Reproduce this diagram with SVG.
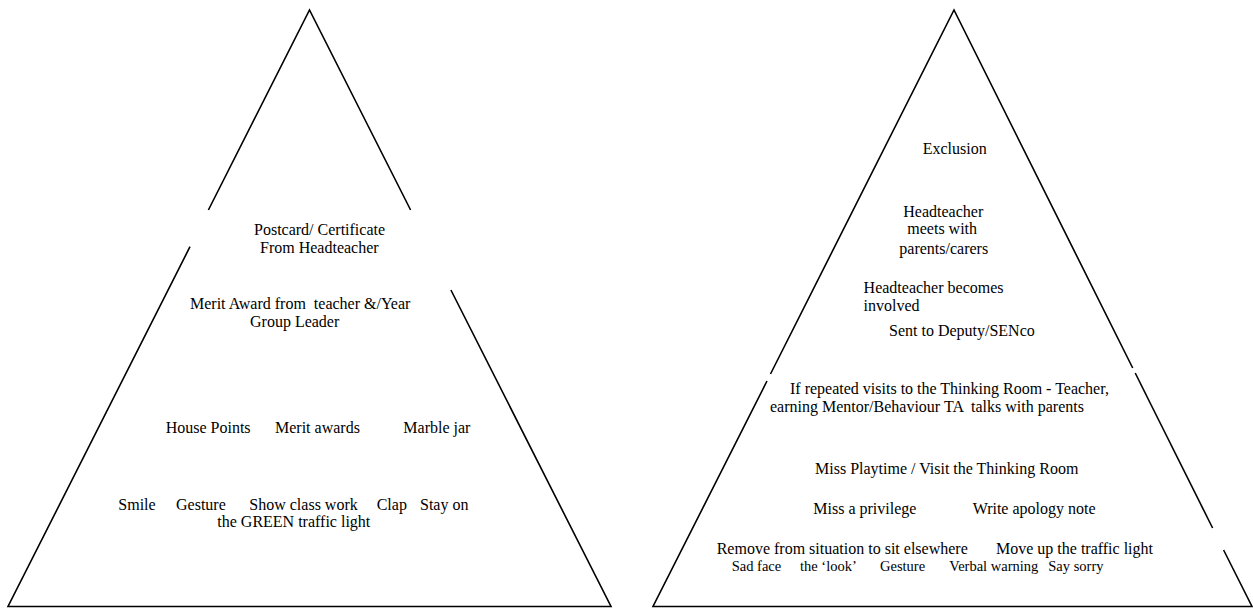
<svg xmlns="http://www.w3.org/2000/svg" width="1253" height="609" viewBox="0 0 1253 609">
<style>
.edge{fill:none;stroke:#000;stroke-width:1.6;stroke-linejoin:miter}
text{font-family:"Liberation Serif","Times New Roman",serif;font-size:16px;fill:#000;white-space:pre}
.sm{font-size:14.5px}
</style>
<rect width="1253" height="609" fill="#fff"/>
<g id="connectors">
  <path class="edge" d="M208.4 210 L309.5 10 L410.6 210"/>
  <path class="edge" d="M190 246.7 L8 606.5 L611 606.5 L450.9 290"/>
  <path class="edge" d="M770.5 374 L954 10 L1132.7 368"/>
  <path class="edge" d="M767 381 L653 606.5 L1252 606.5 L1223.6 550"/>
  <path class="edge" d="M1135.2 373 L1212.6 528"/>
</g>
<g id="reward-top">
  <text x="254" y="235">Postcard/ Certificate</text>
  <text x="260" y="253">From Headteacher</text>
</g>
<g id="reward-merit">
  <text x="190" y="309" xml:space="preserve">Merit Award from  teacher &amp;/Year</text>
  <text x="250" y="327">Group Leader</text>
</g>
<g id="reward-points">
  <text x="165.7" y="433">House Points</text>
  <text x="275" y="433">Merit awards</text>
  <text x="403.3" y="433">Marble jar</text>
</g>
<g id="reward-base">
  <text x="118.3" y="509.5">Smile</text>
  <text x="176" y="509.5">Gesture</text>
  <text x="249.3" y="509.5">Show class work</text>
  <text x="376.7" y="509.5">Clap</text>
  <text x="420" y="509.5">Stay on</text>
  <text x="217.3" y="527">the GREEN traffic light</text>
</g>
<g id="sanction-exclusion">
  <text x="922.7" y="153.5">Exclusion</text>
</g>
<g id="sanction-meets">
  <text x="903.3" y="217">Headteacher</text>
  <text x="907.3" y="234">meets with</text>
  <text x="899.3" y="254">parents/carers</text>
</g>
<g id="sanction-involved">
  <text x="863.6" y="292.5">Headteacher becomes</text>
  <text x="863.6" y="311">involved</text>
</g>
<g id="sanction-deputy">
  <text x="889" y="336">Sent to Deputy/SENco</text>
</g>
<g id="sanction-repeated">
  <text x="790" y="393.5">If repeated visits to the Thinking Room - Teacher,</text>
  <text x="770" y="411.5" xml:space="preserve">earning Mentor/Behaviour TA  talks with parents</text>
</g>
<g id="sanction-playtime">
  <text x="815" y="474">Miss Playtime / Visit the Thinking Room</text>
</g>
<g id="sanction-privilege">
  <text x="813.3" y="513.5">Miss a privilege</text>
  <text x="972.7" y="513.5">Write apology note</text>
</g>
<g id="sanction-base">
  <text x="716.7" y="553.5">Remove from situation to sit elsewhere</text>
  <text x="996" y="553.5">Move up the traffic light</text>
  <text class="sm" x="731.7" y="570.5">Sad face</text>
  <text class="sm" x="800" y="570.5">the ‘look’</text>
  <text class="sm" x="880" y="570.5">Gesture</text>
  <text class="sm" x="949.3" y="570.5">Verbal warning</text>
  <text class="sm" x="1048.3" y="570.5">Say sorry</text>
</g>
</svg>
